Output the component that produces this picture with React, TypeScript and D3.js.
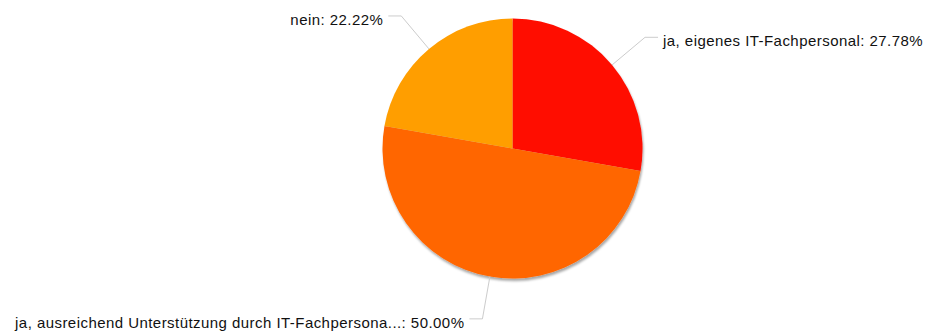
import React from "react";
import * as d3 from "d3";

const categories = [
  "ja, eigenes IT-Fachpersonal",
  "ja, ausreichend Unterstützung durch IT-Fachpersona...",
  "nein",
];
const values = [27.78, 50.0, 22.22];
const colors = ["#FF0F00", "#FF6600", "#FF9E01"];

const W = 929;
const H = 332;
const cx = 512.5;
const cy = 148.5;
const R = 130;
const elbowR = 173;
const horiz = 13;
const gap = 5;

export default function App() {
  const pie = d3.pie<number>().sort(null).value((d) => d)(values);
  const arc = d3.arc<d3.PieArcDatum<number>>().innerRadius(0).outerRadius(R);
  return (
    <svg width={W} height={H} style={{ position: "absolute", left: 0, top: 0 }}>
      <defs>
        <filter id="sh" x="-10%" y="-10%" width="120%" height="125%">
          <feDropShadow dx="1" dy="2.5" stdDeviation="1.2" floodColor="#000" floodOpacity="0.35" />
        </filter>
      </defs>
      <g transform={`translate(${cx},${cy})`}>
        <g filter="url(#sh)">
          {pie.map((d, i) => (
            <path key={i} d={arc(d) || ""} fill={colors[i]} />
          ))}
        </g>
        {pie.map((d, i) => {
          const mid = (d.startAngle + d.endAngle) / 2;
          const sx = Math.sin(mid), sy = -Math.cos(mid);
          const p0 = [R * sx, R * sy];
          const p1 = [elbowR * sx, elbowR * sy];
          const right = sx >= 0;
          const p2 = [p1[0] + (right ? horiz : -horiz), p1[1]];
          const tx = p2[0] + (right ? gap : -gap);
          return (
            <g key={"l" + i}>
              <polyline
                points={[p0, p1, p2].map((p) => p.join(",")).join(" ")}
                fill="none"
                stroke="#cccccc"
                strokeWidth={1}
              />
              <text
                x={tx}
                y={p1[1] + 9}
                textAnchor={right ? "start" : "end"}
                fontFamily="'Liberation Sans', Arial, Helvetica, sans-serif"
                fontSize={15}
                letterSpacing={0.45}
                fill="#111"
              >
                {`${categories[i]}: ${values[i].toFixed(2)}%`}
              </text>
            </g>
          );
        })}
      </g>
    </svg>
  );
}
